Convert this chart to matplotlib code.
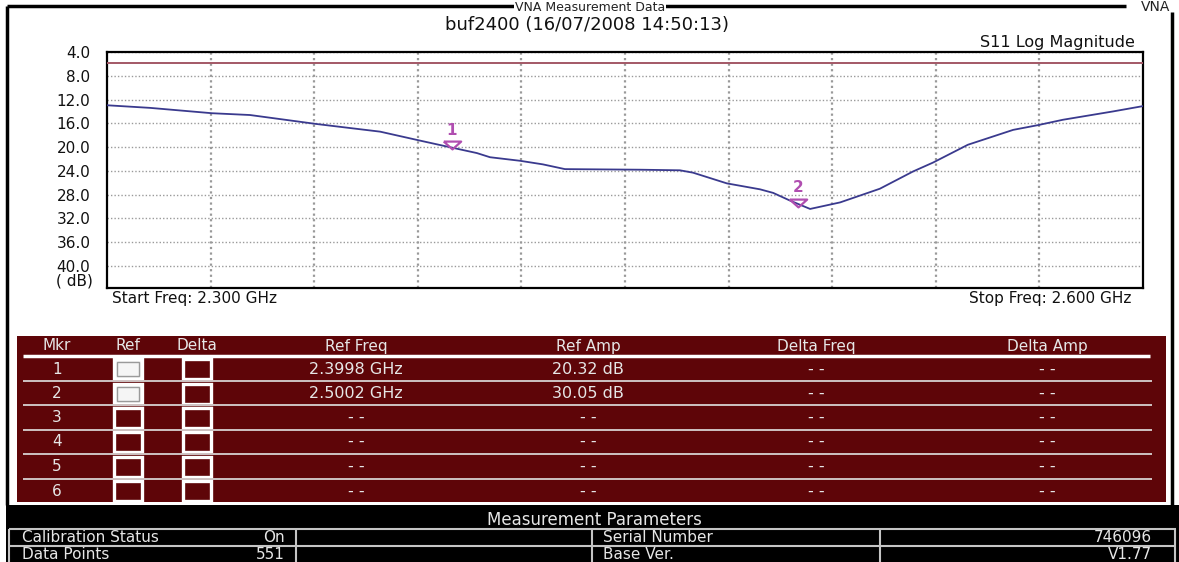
import matplotlib
matplotlib.use('Agg')
import matplotlib.pyplot as plt
from matplotlib.patches import Rectangle
from matplotlib.transforms import offset_copy

plt.rcParams['font.family'] = ['DejaVu Sans', 'Liberation Sans']

# ---------------- data ----------------
freq_ghz = [2.3000, 2.3125, 2.3304, 2.3414, 2.3605, 2.3791, 2.3906, 2.3984,
            2.4071, 2.4109, 2.4196, 2.4262, 2.4326, 2.4543, 2.4659, 2.4697,
            2.4795, 2.4891, 2.4929, 2.4978, 2.5036, 2.5123, 2.5238, 2.5334,
            2.5392, 2.5493, 2.5624, 2.5696, 2.5768, 2.5913, 2.6000]
s11_db = [12.96, 13.4, 14.3, 14.6, 16.1, 17.4, 18.9, 19.9,
          21.0, 21.7, 22.3, 22.9, 23.7, 23.8, 23.9, 24.3,
          26.1, 27.1, 27.7, 29.0, 30.4, 29.3, 27.0, 24.1,
          22.6, 19.6, 17.1, 16.3, 15.4, 14.0, 13.1]
ref_line_db = 5.9
marker_ids = ['1', '2']
marker_freq = [2.3998, 2.5002]
marker_amp = [20.32, 30.05]
y_ticks = [4.0, 8.0, 12.0, 16.0, 20.0, 24.0, 28.0, 32.0, 36.0, 40.0]
x_grid = [2.33, 2.36, 2.39, 2.42, 2.45, 2.48, 2.51, 2.54, 2.57]
x_range = [2.300, 2.600]
y_range = [43.7, 4.0]

window_title = 'VNA Measurement Data'
title_text = 'buf2400 (16/07/2008 14:50:13)'
trace_label = 'S11 Log Magnitude'
start_label = 'Start Freq: 2.300 GHz'
stop_label = 'Stop Freq: 2.600 GHz'
unit_label = '( dB)'

table_cols = ['Mkr', 'Ref', 'Delta', 'Ref Freq', 'Ref Amp', 'Delta Freq', 'Delta Amp']
mkr_rows = ['1', '2', '3', '4', '5', '6']
ref_on = [True, True, False, False, False, False]
delta_on = [False, False, False, False, False, False]
ref_freq = ['2.3998 GHz', '2.5002 GHz', '- -', '- -', '- -', '- -']
ref_amp = ['20.32 dB', '30.05 dB', '- -', '- -', '- -', '- -']
delta_freq = ['- -', '- -', '- -', '- -', '- -', '- -']
delta_amp = ['- -', '- -', '- -', '- -', '- -', '- -']

params_title = 'Measurement Parameters'
param_names_left = ['Calibration Status', 'Data Points']
param_values_left = ['On', '551']
param_names_right = ['Serial Number', 'Base Ver.']
param_values_right = ['746096', 'V1.77']

# ---------------- layout ----------------
W, H = 1179, 562
fig = plt.figure(figsize=(W / 100, H / 100), dpi=100)
fig.patch.set_facecolor('white')

ov = fig.add_axes([0, 0, 1, 1], zorder=0)
ov.set_xlim(0, W)
ov.set_ylim(H, 0)
ov.axis('off')


def px_rect(l, t, r, b):
    return [l / W, 1 - b / H, (r - l) / W, (b - t) / H]


# outer frame lines
ov.plot([7, 7], [6, 505], color='black', lw=2.5, solid_capstyle='butt')
ov.plot([7, 1126], [6, 6], color='black', lw=2.5, solid_capstyle='butt')
ov.plot([1172, 1172], [12, 505], color='black', lw=2.5, solid_capstyle='butt')

ov.text(590, 1, window_title, ha='center', va='top', fontsize=9, color='#222222',
        bbox=dict(facecolor='white', edgecolor='none', pad=0.5), zorder=5)
ov.text(1170, 11, 'VNA', ha='right', va='baseline', fontsize=10, color='#222222')
ov.text(587, 25, title_text, ha='center', va='center', fontsize=13, color='#111111')
ov.text(1135, 43, trace_label, ha='right', va='center', fontsize=11.5, color='#111111')
ov.text(112, 298, start_label, ha='left', va='center', fontsize=11, color='#111111')
ov.text(1131, 298, stop_label, ha='right', va='center', fontsize=11, color='#111111')
ov.text(93, 281, unit_label, ha='right', va='center', fontsize=11, color='#111111')

# ---------------- plot ----------------
ax = fig.add_axes(px_rect(107, 52, 1143, 288), zorder=2)
ax.set_facecolor('white')
ax.set_xlim(*x_range)
ax.set_ylim(*y_range)
ax.set_yticks(y_ticks)
ax.set_yticklabels([f'{v:.1f}' for v in y_ticks])
ax.set_xticks(x_grid)
ax.set_xticklabels([])
ax.tick_params(length=0, labelsize=11, pad=12, labelcolor='#111111')
ax.grid(True, color='#9a9a9a', linestyle=(0, (1, 1.5)), linewidth=1.0)
ax.xaxis.grid(True, linewidth=1.6)
for sp in ax.spines.values():
    sp.set_linewidth(1.6)
    sp.set_color('black')

ax.axhline(ref_line_db, color='#a35866', lw=1.4, zorder=3)
ax.plot(freq_ghz, s11_db, color='#3a3a8e', lw=1.3, zorder=4)

tri = [(-1, 0.45), (1, 0.45), (0, -0.45), (-1, 0.45)]
trans = offset_copy(ax.transData, fig=fig, x=0, y=4, units='dots')
ax.plot(marker_freq, marker_amp, linestyle='none', marker=tri, markersize=12.5,
        mfc='none', mec='#b04eb0', mew=1.6, transform=trans, zorder=5)
for mid, f, a in zip(marker_ids, marker_freq, marker_amp):
    ax.annotate(mid, (f, a), xytext=(0, 19), textcoords='offset pixels',
                ha='center', va='center', fontsize=11, fontweight='bold',
                color='#b04eb0', zorder=6)

# ---------------- marker table ----------------
tab_red = '#5e0508'
txt_light = '#e6e6e6'
ov.add_patch(Rectangle((17, 336), 1149, 166, facecolor=tab_red, edgecolor='none'))
col_x = [57, 128, 197, 356, 588, 816, 1047]
for cx, name in zip(col_x, table_cols):
    ov.text(cx, 346, name, ha='center', va='center', fontsize=11, color=txt_light)
ov.plot([23, 1150], [355.5, 355.5], color='white', lw=2.5, solid_capstyle='butt')

row_y = [369, 393.5, 417.5, 442, 466.5, 491]
for ysep in [381, 405, 429.5, 454, 478.5]:
    ov.plot([23, 1152], [ysep, ysep], color='#cfc3c3', lw=1.4, solid_capstyle='butt')

for i, yy in enumerate(row_y):
    ov.text(col_x[0], yy, mkr_rows[i], ha='center', va='center', fontsize=11, color=txt_light)
    for cx, on in [(col_x[1], ref_on[i]), (col_x[2], delta_on[i])]:
        ov.add_patch(Rectangle((cx - 14, yy - 10), 28, 20,
                               facecolor='#f5f5f5' if on else 'none',
                               edgecolor='white', lw=2.4))
        if on:
            ov.add_patch(Rectangle((cx - 11, yy - 7), 22, 14, facecolor='none',
                                   edgecolor='#9a9a9a', lw=1.0))
    ov.text(col_x[3], yy, ref_freq[i], ha='center', va='center', fontsize=11.5, color=txt_light)
    ov.text(col_x[4], yy, ref_amp[i], ha='center', va='center', fontsize=11.5, color=txt_light)
    ov.text(col_x[5], yy, delta_freq[i], ha='center', va='center', fontsize=11.5, color=txt_light)
    ov.text(col_x[6], yy, delta_amp[i], ha='center', va='center', fontsize=11.5, color=txt_light)

# ---------------- measurement parameters ----------------
ov.add_patch(Rectangle((6, 505), W - 6, H - 505, facecolor='black', edgecolor='none'))
ov.text(594, 520, params_title, ha='center', va='center', fontsize=12, color=txt_light)
grid_col = '#c4c4c4'
for yl in [529, 546]:
    ov.plot([9, 1176], [yl, yl], color=grid_col, lw=1.5, solid_capstyle='butt')
for xl in [9, 296, 592, 880, 1175]:
    ov.plot([xl, xl], [529, H], color=grid_col, lw=1.5, solid_capstyle='butt')
for i, yy in enumerate([537.5, 554.5]):
    ov.text(22, yy, param_names_left[i], ha='left', va='center', fontsize=11, color=txt_light)
    ov.text(285, yy, param_values_left[i], ha='right', va='center', fontsize=11, color=txt_light)
    ov.text(603, yy, param_names_right[i], ha='left', va='center', fontsize=11, color=txt_light)
    ov.text(1152, yy, param_values_right[i], ha='right', va='center', fontsize=11, color=txt_light)

fig.savefig('out.png', dpi=100, facecolor='white')
